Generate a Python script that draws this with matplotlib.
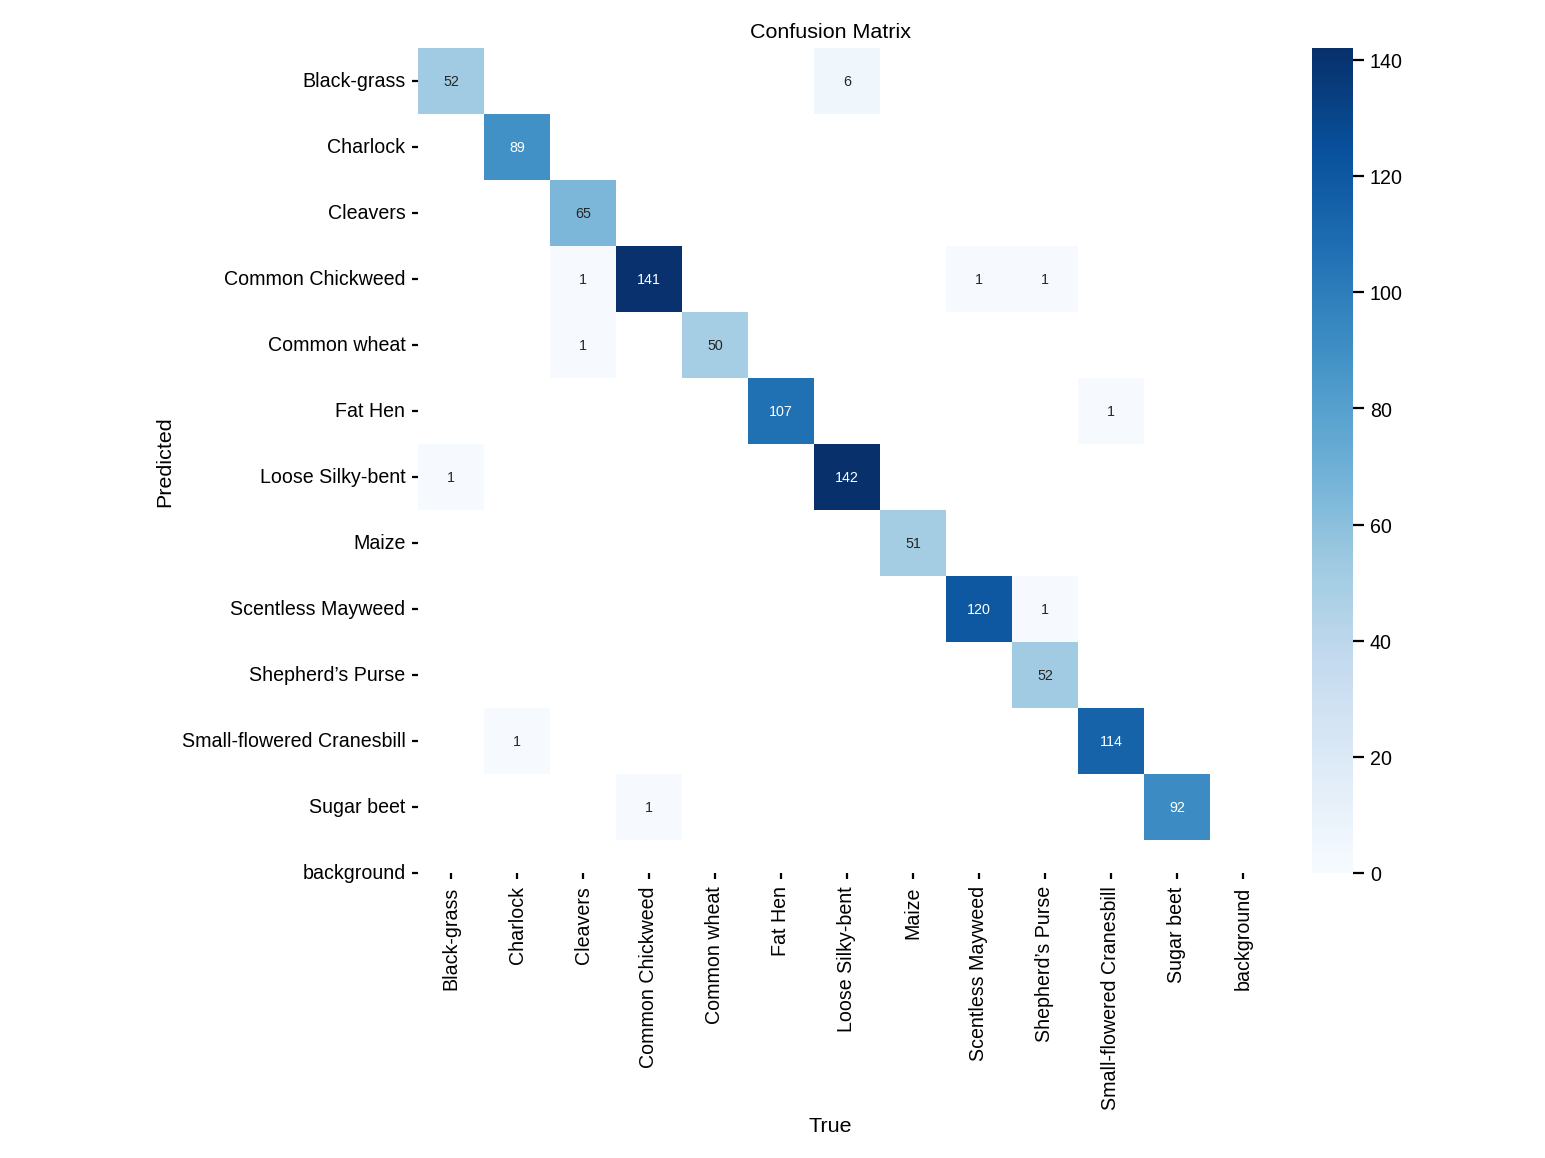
import numpy as np
import seaborn as sns
import matplotlib.pyplot as plt

classes = [
    "Black-grass", "Charlock", "Cleavers", "Common Chickweed", "Common wheat",
    "Fat Hen", "Loose Silky-bent", "Maize", "Scentless Mayweed",
    "Shepherd’s Purse", "Small-flowered Cranesbill", "Sugar beet", "background",
]

# rows = predicted, columns = true
black_grass = [52, 0, 0, 0, 0, 0, 6, 0, 0, 0, 0, 0, 0]
charlock = [0, 89, 0, 0, 0, 0, 0, 0, 0, 0, 0, 0, 0]
cleavers = [0, 0, 65, 0, 0, 0, 0, 0, 0, 0, 0, 0, 0]
common_chickweed = [0, 0, 1, 141, 0, 0, 0, 0, 1, 1, 0, 0, 0]
common_wheat = [0, 0, 1, 0, 50, 0, 0, 0, 0, 0, 0, 0, 0]
fat_hen = [0, 0, 0, 0, 0, 107, 0, 0, 0, 0, 1, 0, 0]
loose_silky_bent = [1, 0, 0, 0, 0, 0, 142, 0, 0, 0, 0, 0, 0]
maize = [0, 0, 0, 0, 0, 0, 0, 51, 0, 0, 0, 0, 0]
scentless_mayweed = [0, 0, 0, 0, 0, 0, 0, 0, 120, 1, 0, 0, 0]
shepherds_purse = [0, 0, 0, 0, 0, 0, 0, 0, 0, 52, 0, 0, 0]
small_flowered_cranesbill = [0, 1, 0, 0, 0, 0, 0, 0, 0, 0, 114, 0, 0]
sugar_beet = [0, 0, 0, 1, 0, 0, 0, 0, 0, 0, 0, 92, 0]
background = [0] * 13

matrix = np.array([
    black_grass, charlock, cleavers, common_chickweed, common_wheat, fat_hen,
    loose_silky_bent, maize, scentless_mayweed, shepherds_purse,
    small_flowered_cranesbill, sugar_beet, background,
], dtype=float)
matrix[matrix < 0.005] = np.nan  # hide empty cells

sns.set_theme(style="white", font_scale=1.0)
plt.rcParams["font.family"] = ["Liberation Sans", "DejaVu Sans"]
plt.rcParams["xtick.bottom"] = True
plt.rcParams["ytick.left"] = True
plt.rcParams["xtick.major.size"] = 3.5
plt.rcParams["ytick.major.size"] = 3.5
for key in ["text.color", "axes.labelcolor", "xtick.color", "ytick.color"]:
    plt.rcParams[key] = "black"

W, H = 1545, 1159
fig = plt.figure(figsize=(12, 9))
# positions in pixels of the original render: heatmap and colorbar
ax = fig.add_axes([418 / W, 1 - 874 / H, 825 / W, 825 / H])
cax = fig.add_axes([1312 / W, 1 - 874 / H, 41 / W, 825 / H])
sns.heatmap(
    matrix, ax=ax, cbar_ax=cax, annot=True, annot_kws={"size": 8},
    cmap="Blues", fmt=".0f", vmin=0.0,
    xticklabels=classes, yticklabels=classes,
)
ax.set_facecolor((1, 1, 1))
# last row and column are cut in half, as in the original render
ax.set_xlim(0, 12.5)
ax.set_ylim(12.5, 0)
ax.set_xlabel("True")
ax.set_ylabel("Predicted")
ax.set_title("Confusion Matrix")
cax.tick_params(length=6)
fig.savefig("out.png", dpi=128.75)
